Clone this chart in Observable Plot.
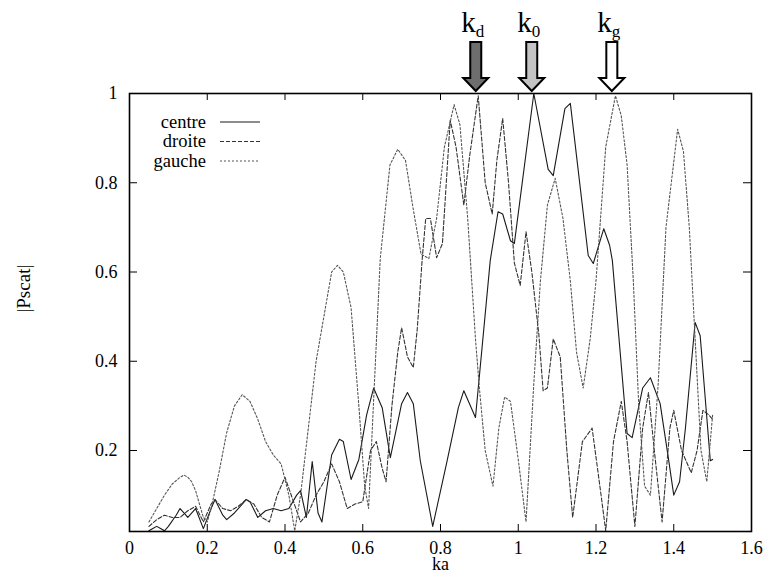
<!DOCTYPE html>
<html><head><meta charset="utf-8">
<script src="https://cdn.jsdelivr.net/npm/d3@7"></script>
<script src="https://cdn.jsdelivr.net/npm/@observablehq/plot@0.6"></script>
<style>body{margin:0;background:#fff} svg{display:block}</style>
</head><body><div id="chart"></div>
<script>
// ---- data: [ka, |Pscat|] ----
const centre = [[0.05,0.02],[0.06,0.025],[0.07,0.03],[0.08,0.025],[0.09,0.02],[0.10,0.03],[0.12,0.055],[0.13,0.07],[0.14,0.06],[0.15,0.05],[0.17,0.07],[0.19,0.025],[0.21,0.07],[0.22,0.09],[0.24,0.055],[0.25,0.045],[0.27,0.06],[0.29,0.08],[0.30,0.09],[0.31,0.085],[0.33,0.05],[0.35,0.065],[0.37,0.07],[0.39,0.065],[0.41,0.07],[0.43,0.10],[0.44,0.11],[0.455,0.05],[0.47,0.175],[0.485,0.06],[0.495,0.04],[0.52,0.19],[0.54,0.225],[0.55,0.22],[0.57,0.135],[0.59,0.18],[0.61,0.28],[0.628,0.34],[0.65,0.296],[0.671,0.184],[0.70,0.305],[0.715,0.33],[0.73,0.305],[0.748,0.177],[0.78,0.03],[0.817,0.177],[0.846,0.296],[0.86,0.334],[0.89,0.274],[0.928,0.626],[0.948,0.735],[0.96,0.73],[0.98,0.67],[0.99,0.664],[1.04,1.0],[1.077,0.83],[1.09,0.816],[1.12,0.966],[1.134,0.978],[1.18,0.637],[1.193,0.619],[1.22,0.697],[1.235,0.66],[1.242,0.626],[1.28,0.238],[1.293,0.229],[1.32,0.34],[1.34,0.363],[1.365,0.305],[1.386,0.184],[1.40,0.10],[1.415,0.13],[1.43,0.25],[1.455,0.487],[1.468,0.457],[1.494,0.177],[1.50,0.18]];
const droite = [[0.05,0.03],[0.07,0.045],[0.09,0.055],[0.11,0.05],[0.13,0.05],[0.15,0.065],[0.17,0.075],[0.19,0.04],[0.21,0.08],[0.22,0.09],[0.24,0.07],[0.26,0.065],[0.28,0.075],[0.30,0.09],[0.32,0.08],[0.34,0.05],[0.36,0.04],[0.38,0.10],[0.40,0.14],[0.42,0.09],[0.44,0.04],[0.46,0.06],[0.48,0.10],[0.50,0.13],[0.52,0.17],[0.54,0.13],[0.56,0.07],[0.58,0.08],[0.60,0.085],[0.62,0.20],[0.635,0.22],[0.65,0.16],[0.66,0.13],[0.675,0.30],[0.69,0.42],[0.70,0.475],[0.715,0.41],[0.73,0.386],[0.74,0.47],[0.753,0.63],[0.762,0.72],[0.774,0.72],[0.79,0.632],[0.805,0.664],[0.825,0.94],[0.84,0.88],[0.86,0.75],[0.875,0.86],[0.897,0.995],[0.915,0.80],[0.933,0.73],[0.945,0.85],[0.96,0.944],[0.975,0.80],[0.99,0.62],[1.005,0.57],[1.02,0.69],[1.035,0.60],[1.053,0.46],[1.064,0.334],[1.075,0.34],[1.09,0.45],[1.108,0.41],[1.125,0.20],[1.14,0.05],[1.165,0.22],[1.19,0.25],[1.21,0.12],[1.225,0.02],[1.245,0.22],[1.265,0.31],[1.28,0.22],[1.30,0.03],[1.32,0.25],[1.335,0.33],[1.35,0.20],[1.37,0.04],[1.39,0.25],[1.40,0.29],[1.42,0.20],[1.445,0.15],[1.46,0.20],[1.475,0.29],[1.49,0.28],[1.50,0.27]];
const gauche = [[0.05,0.04],[0.07,0.07],[0.09,0.10],[0.11,0.125],[0.13,0.14],[0.14,0.145],[0.15,0.14],[0.16,0.13],[0.17,0.11],[0.18,0.08],[0.19,0.05],[0.20,0.04],[0.21,0.07],[0.23,0.15],[0.25,0.24],[0.27,0.30],[0.29,0.325],[0.31,0.31],[0.33,0.27],[0.35,0.22],[0.37,0.19],[0.39,0.17],[0.41,0.10],[0.425,0.02],[0.44,0.10],[0.46,0.25],[0.48,0.40],[0.50,0.50],[0.52,0.60],[0.535,0.615],[0.55,0.60],[0.57,0.52],[0.59,0.30],[0.605,0.12],[0.615,0.07],[0.63,0.35],[0.645,0.63],[0.67,0.84],[0.69,0.875],[0.71,0.85],[0.73,0.74],[0.75,0.64],[0.77,0.63],[0.79,0.72],[0.81,0.88],[0.835,0.975],[0.85,0.93],[0.87,0.72],[0.89,0.45],[0.90,0.34],[0.915,0.2],[0.935,0.12],[0.95,0.25],[0.965,0.32],[0.98,0.31],[1.0,0.18],[1.02,0.04],[1.04,0.35],[1.057,0.58],[1.075,0.75],[1.095,0.81],[1.115,0.72],[1.134,0.58],[1.15,0.42],[1.167,0.34],[1.185,0.45],[1.2,0.58],[1.225,0.88],[1.25,0.995],[1.265,0.95],[1.28,0.84],[1.296,0.58],[1.31,0.30],[1.325,0.12],[1.34,0.10],[1.36,0.35],[1.38,0.70],[1.41,0.92],[1.425,0.87],[1.44,0.70],[1.455,0.45],[1.47,0.20],[1.485,0.13],[1.5,0.28]];

const seriesNames = ["centre", "droite", "gauche"];
const xTicks = [0, 0.2, 0.4, 0.6, 0.8, 1, 1.2, 1.4, 1.6];
const xTickLabels = ["0", "0.2", "0.4", "0.6", "0.8", "1", "1.2", "1.4", "1.6"];
const yTicks = [0.2, 0.4, 0.6, 0.8, 1];
const yTickLabels = ["0.2", "0.4", "0.6", "0.8", "1"];
const markerKa = [0.892, 1.036, 1.242];
const markerSubs = ["d", "0", "g"];
const xLabel = "ka";
const yLabel = "|Pscat|";

// ---- styles / layout ----
const W = 765, H = 578, mT = 93, mL = 129, mR = 14, mB = 47;
const innerH = H - mT - mB, innerW = W - mL - mR;
const FONT = "\"Liberation Serif\", \"Times New Roman\", serif";
const lineStyle = {
  centre: {stroke: "#1a1a1a", dash: null},
  droite: {stroke: "#333", dash: "4,2"},
  gauche: {stroke: "#555", dash: "2,2"}
};
const markerFill = ["#6e6e6e", "#c4c4c4", "#ffffff"];
const seriesData = {centre, droite, gauche};

const lineMarks = seriesNames.map(name => Plot.line(seriesData[name], {
  x: d => d[0], y: d => d[1],
  stroke: lineStyle[name].stroke,
  strokeDasharray: lineStyle[name].dash,
  strokeWidth: 1.1, clip: true
}));

const plot = Plot.plot({
  width: W, height: H,
  marginTop: mT, marginLeft: mL, marginRight: mR, marginBottom: mB,
  style: {background: "#fff", color: "#000", overflow: "visible"},
  x: {domain: [0, 1.6]},
  y: {domain: [0.0185, 1]},
  marks: [
    Plot.ruleX(xTicks.slice(1, -1), {x: d => d, insetTop: innerH - 7, stroke: "#000"}),
    Plot.ruleX(xTicks.slice(1, -1), {x: d => d, insetBottom: innerH - 7, stroke: "#000"}),
    Plot.ruleY(yTicks.slice(0, -1), {y: d => d, insetRight: innerW - 8, stroke: "#000"}),
    Plot.ruleY(yTicks.slice(0, -1), {y: d => d, insetLeft: innerW - 8, stroke: "#000"}),
    ...lineMarks,
    Plot.frame({stroke: "#000", strokeWidth: 1.6}),
    Plot.axisX(xTicks, {tickSize: 0, tickPadding: 10, fontSize: 18, label: null,
      tickFormat: d => xTickLabels[xTicks.indexOf(d)]}),
    Plot.axisY(yTicks, {tickSize: 0, tickPadding: 12, fontSize: 18, label: null,
      tickFormat: d => yTickLabels[yTicks.indexOf(d)]}),
    Plot.text([xLabel], {frameAnchor: "bottom", dy: 38.5, fontSize: 18, text: d => d}),
    Plot.text([yLabel], {frameAnchor: "left", dx: -106, rotate: -90, fontSize: 19, text: d => d})
  ]
});

const svg = d3.select(plot);
const xs = plot.scale("x");

// legend
const lg = svg.append("g").attr("font-size", 18.5);
seriesNames.forEach((name, i) => {
  const y = 122 + i * 19.5;
  lg.append("text").attr("x", 206).attr("y", y).attr("dy", "0.3em")
    .attr("text-anchor", "end").text(name);
  lg.append("line").attr("x1", 220).attr("x2", 260).attr("y1", y).attr("y2", y)
    .attr("stroke", lineStyle[name].stroke).attr("stroke-width", 1.1)
    .attr("stroke-dasharray", lineStyle[name].dash);
});

// marker arrows with labels
const ag = svg.append("g");
markerKa.forEach((k, i) => {
  const cx = xs.apply(k);
  const pts = [[cx-5.5,42],[cx+5.5,42],[cx+5.5,78],[cx+12.5,78],[cx,91],[cx-12.5,78],[cx-5.5,78]];
  ag.append("polygon").attr("points", pts.map(p => p.join(",")).join(" "))
    .attr("fill", markerFill[i]).attr("stroke", "#000").attr("stroke-width", 2)
    .attr("stroke-linejoin", "miter");
  const t = ag.append("text").attr("x", cx - 3).attr("y", 32)
    .attr("text-anchor", "middle").attr("font-size", 29);
  t.append("tspan").text("k");
  t.append("tspan").attr("dy", 5).attr("font-size", 17).text(markerSubs[i]);
});

// serif font on every text of the chart
plot.setAttribute("font-family", FONT);
plot.style.setProperty("font-family", FONT, "important");
plot.querySelectorAll("text, tspan").forEach(el => el.style.setProperty("font-family", FONT, "important"));

document.getElementById("chart").appendChild(plot);
</script>
</body></html>
